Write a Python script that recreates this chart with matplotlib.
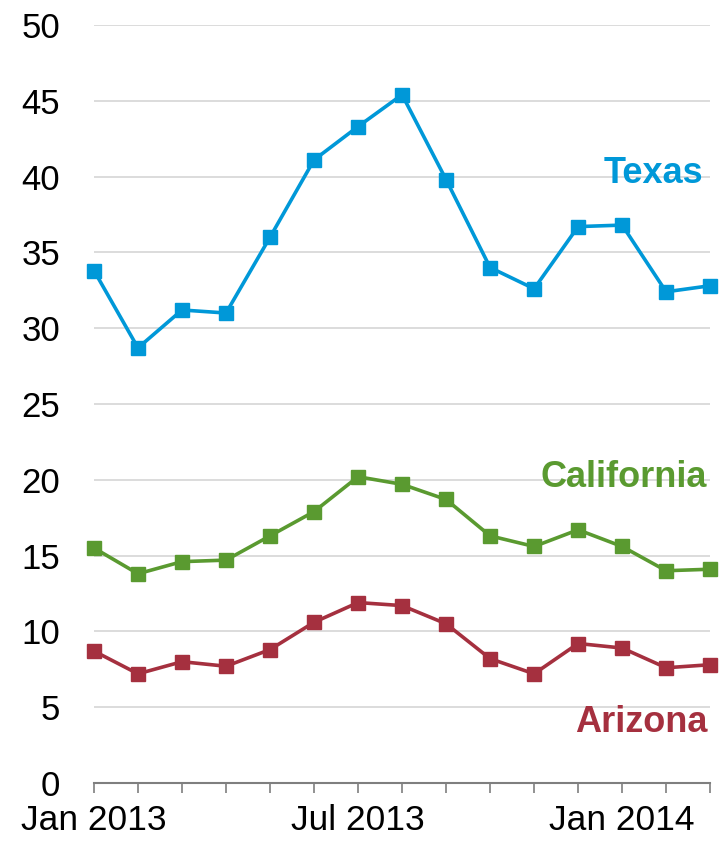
import numpy as np
import matplotlib.pyplot as plt
from matplotlib.ticker import FixedLocator

plt.rcParams['font.family'] = ['Liberation Sans', 'DejaVu Sans']

months = np.arange(15)
tick_labels = ["Jan 2013", "Jul 2013", "Jan 2014"]

texas = [33.8, 28.7, 31.2, 31.0, 36.0, 41.1, 43.3, 45.4, 39.8, 34.0, 32.6, 36.7, 36.8, 32.4, 32.8]
california = [15.5, 13.8, 14.6, 14.7, 16.3, 17.9, 20.2, 19.7, 18.7, 16.3, 15.6, 16.7, 15.6, 14.0, 14.1]
arizona = [8.7, 7.2, 8.0, 7.7, 8.8, 10.6, 11.9, 11.7, 10.5, 8.2, 7.2, 9.2, 8.9, 7.6, 7.8]

c_tx = '#0098D8'
c_ca = '#5A9A30'
c_az = '#A5303F'

fig = plt.figure(figsize=(7.19, 8.41), dpi=100)
ax = fig.add_axes([0.1307, 0.069, 0.857, 0.9013])

for vals, col in [(texas, c_tx), (california, c_ca), (arizona, c_az)]:
    ax.plot(months, vals, color=col, lw=2.6, marker='s', markersize=10.5,
            clip_on=False, zorder=3)

ax.set_xlim(0, 14)
ax.set_ylim(0, 50)
ax.set_yticks(np.arange(0, 51, 5))
ax.yaxis.grid(True, color='#D9D9D9', lw=1.3)
ax.set_axisbelow(True)

# major ticks carry the labels, minor ticks mark every month
ax.xaxis.set_major_locator(FixedLocator([0, 6, 12]))
ax.set_xticklabels(tick_labels)
ax.xaxis.set_minor_locator(FixedLocator(months))
ax.tick_params(axis='x', which='both', direction='out', length=7, width=1.2,
               color='#7F7F7F', labelsize=25.5, pad=8)
ax.tick_params(axis='y', length=0, labelsize=25, pad=24.5)

for s in ['top', 'right', 'left']:
    ax.spines[s].set_visible(False)
ax.spines['bottom'].set_color('#7F7F7F')
ax.spines['bottom'].set_linewidth(1.5)

ax.text(13.85, 39.6, "Texas", color=c_tx, fontsize=26, fontweight='bold', ha='right', va='baseline')
ax.text(13.93, 19.5, "California", color=c_ca, fontsize=26, fontweight='bold', ha='right', va='baseline')
ax.text(13.93, 3.35, "Arizona", color=c_az, fontsize=26, fontweight='bold', ha='right', va='baseline')

fig.savefig("out.png", dpi=100)
